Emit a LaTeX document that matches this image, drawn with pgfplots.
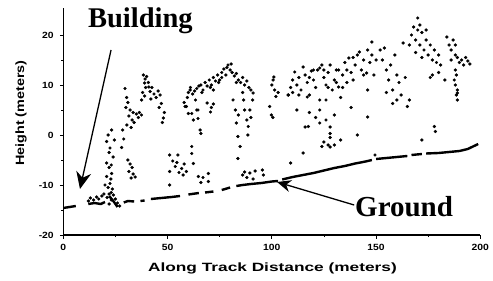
\documentclass[border=0pt]{standalone}
\usepackage{graphicx}
\usepackage{fontspec}
\setmainfont{Liberation Sans}
\newfontfamily\tnr{Liberation Serif}
\usepackage{pgfplots}
\pgfplotsset{compat=1.18}
\usetikzlibrary{arrows.meta}
\begin{document}
\begin{tikzpicture}
\begin{axis}[
  scale only axis, width=417pt, height=227pt,
  xmin=0, xmax=200, ymin=-20, ymax=25.4,
  axis x line*=bottom, axis y line*=left,
  axis line style={line width=1.3pt},
  xtick={0,50,100,150,200}, ytick={-20,-10,0,10,20},
  minor x tick num=1, minor y tick num=1,
  tick align=outside, major tick length=3.5pt, minor tick length=2pt,
  tick style={black, line width=0.8pt},
  /pgf/number format/assume math mode=true,
  tick label style={font=\fontsize{9}{10}\selectfont\bfseries},
  xticklabel style={yshift=-2pt, xscale=1.15},
  yticklabel style={xshift=-2pt, xscale=1.15},
  clip=false,
]
\coordinate (O) at (rel axis cs:0,0);
% ground
\addplot[black, line width=2.4pt, unbounded coords=jump] coordinates {
(0,-14.6)(3,-14.4)(6,-14.2) (7,nan)
(12,-13.8)(15,-13.6)(18,-13.8)(20,-13.4) (21,nan)
(22,-12.2)(24,-13.2)(26,-14.4) (27,nan)
(29,-13.5)(31,-13.2)(34,-13.3) (36,nan) (37,-13.2)(39,-13.1) (40,nan)
(42,-12.8)(47,-12.6)(52,-12.4)(56,-12.2) (58,nan)
(60,-11.9)(65,-11.6) (66,nan) (68,-11.5)(72,-11.3) (74,nan)
(76,-11)(80,-10.5) (81,nan)
(83,-10.2)(86,-10)(90,-9.8)(95,-9.6)(100,-9.3)(103,-9.2) (104,nan)
(105,-8.9)(110,-8.4)(115,-8)(120,-7.6)(125,-7.1)(130,-6.6)(135,-6.2)(140,-5.7)(145,-5.3)(148,-5) (149,nan)
(150,-4.8)(155,-4.6)(160,-4.4)(165,-4.2) (166,nan)
(167,-4)(172,-3.8) (173,nan)
(174,-3.7)(180,-3.6)(185,-3.4)(190,-3.2)(194,-2.8)(197,-2.2)(199,-1.8)
};
% building / vegetation returns
\addplot[only marks, mark=*, mark size=1.45pt, black] coordinates {
(12,-13.2)(13,-12.6)(14.5,-13)(16,-12.4)(17,-12.8)(18.5,-12.2)(19.5,-11.8)
(21,-12.5)(22,-11.8)(23,-11.5)(24,-12)(25,-12.8)(26,-13.6)(27,-14.2)(23,-13)(22,-13.8)
(23.2,1)(20.8,-1.3)(22.4,-2.6)(23.9,-4.4)(20.8,-5.6)(22,-6.5)(23.2,-7.7)(20.8,-8.3)(22.4,-9.7)(21.5,-10.5)(23.5,-10.8)(22,-3.5)(24.5,-1)(21.5,0)(23,-6)(20,-10)(22.8,-8.8)
(31,-5)(32,-5.8)(33,-6.5)(31.5,-7.3)(33.5,-7.8)(34.5,-8.4)(32.5,-8.6)
(29.6,9.3)(30.4,7.5)(31,6.5)(30,5.5)(32,5)(33.5,4.5)(35,4.2)(36.5,4.5)(37.5,4)(31.5,3.8)(33,3)(30.5,2)(32.5,1.5)(28.5,1)(34,2.5)(36,3.5)(29,-0.8)(28,-2.5)
(38.4,12)(39.2,11.2)(40,11.7)(40.8,10.5)(41.6,8.7)(39.5,9.5)(38,8.5)(37.6,7)(42.5,9.5)(43.5,8.2)(44.5,7.5)(45.5,8.8)(46.4,8)(47,6.3)(46,5.5)(48,3.4)(47.5,2.5)(48.5,4.5)(39,7.8)(42,7.2)(39,10.4)(41,9.6)
(51,-4)(55,-4)(56.8,-6.7)(53.7,-6.3)(51,-7.3)(59,-7.3)(61.6,-2.3)(61.6,-3.7)(62.4,-5.7)(64.8,-8.3)(69.6,-7.7)(69.6,-9.3)(51,-10)(52.5,-5.2)(54.5,-5.5)(57.5,-8)(55.5,-7.5)(58,-5.8)(66,-9.5)(67,-8.5)
(60.8,9)(59,5.7)(61.6,4.3)(62.4,3)(64.6,3.3)(64.6,5)(63.4,7)(58.4,5.7)(60,4.3)(65.6,1)(66,0.3)(64,5)(59.5,7.5)(58,6.5)
(60,8.5)(61,9.5)(62,8.2)(63,8.8)(64,9.3)(65,9.8)(66,10)(67,9)(68,10.5)(69,9.8)(70,11)(71,10)(72,11.5)(73,10.8)(74,12)(75,11)(76,12.5)(77,13.2)(78,12)(79,14)(80,13)(81,12.5)(82,11.8)(83,12.3)(84,11)(85,10.5)(86,11.5)(87,10)(88,10.8)(90,9)(91,8.4)(66.5,8.5)(70.5,9.5)(74.5,10.5)(78.5,13.5)(80.5,14.2)(83,10.5)(89,9.5)(72,9)(76,11.5)
(69,6.4)(71,5.5)(70.6,4.6)(72,6.2)
(81.4,7)(83,2.4)(83.7,-0.3)(84.8,-2.3)(83.7,-4.7)(86.5,7)(87,5)(88,3)(88.7,1.7)(90.8,7)(82.5,5)(84,4)(89.5,5)(86,8.5)(90,3.5)(88.5,0)
(86,-8)(87,-7.4)(88,-8.5)(89.5,-7.6)(91,-8.8)(95.5,-7)(96,-8)(92,-7.2)
(100.6,11)(101.4,9)(102,7.7)(99,5.7)(99.8,4)(107.8,8)(100,10)(101,11.6)(103,8.5)(100.5,3.5)
(108,8)(109,9.5)(110,11)(111,12.6)(112,10)(113,11.5)(114,9)(115,13.6)(116,12)(117,10.5)(118,8)(117,7.6)(119,12.8)(120,11)(121,9.5)(122,13)(123,13.4)(124,14)(123,7)(125,11.5)(126,10)(126,7)(127,12.5)(128,14)(129,9)(130,11)(131,13)(132,9.6)(132,13)(133,7.5)(134,12)(135,14.5)(136,10.5)(137,15.4)(138,12.5)(139,11)(140,14)(141,16)(142,16.6)(143,13)(144,15)(145.5,12.4)(146,17)(146,9)(147,14.5)(148,18.6)(148,16)(149,12)(150,15)(110,8.5)(113,8)(120,13)(127,9.5)(131,10.5)(136,13)(139,15.5)(144,12)(118,11.5)(125,13)(134,9.5)
(116,1.6)(123,5)(123,2.4)(128,1.6)(128,-0.5)(128,-2.4)(125,-1.4)(130,-2)(115,-3.6)(109,-5.6)(141,0)(146,3.6)(149.5,-4)(117.5,1.7)(128,0.3)(124,-2.3)(127,-2)(121,3.5)(118,4.5)(130,4)(126,3)(112,5)(133,-1)(138,5.5)
(152,17)(154,17.4)(153,15)(155,13)(156,11)(157,14)(158,9)(158,6.3)(160,12)(159,16)(161,10.5)(162,8)(163,18.4)(164,11.5)(165,5.7)(166,7)(155,8.5)(160,7)
(168,21.6)(170,23.4)(167,20)(169,19)(170,21)(171,18)(172,20.5)(173,17)(174,19)(175,16)(176,18)(177,15)(178,17)(179,14.5)(180,16)(181,14)(166,18)(172,15.5)(177,12)(169,16.5)(171,22)(174,21)
(184,19.6)(185,18)(186,17)(187,19)(188,16)(189,15.5)(190,14.5)(191,15)(192,14)(193,15.5)(194,14.8)(195,14.2)(186,15)(188,18)
(188,13)(188.5,12)(187.5,11)(188,10)(189,9)(188.5,8)(189,7)(189,8.4)
(172,-1)(178,1.7)(178.5,0.7)(183,11)(180,12.5)(176,11.5)
};
% annotations
\draw[line width=1.3pt, -{Stealth[length=17pt, width=15pt]}] (axis cs:22.9,17) -- (axis cs:8,-10.8);
\draw[line width=1.3pt, -{Stealth[length=14pt, width=12pt]}] (axis cs:139.5,-14) -- (axis cs:102.5,-9.4);
\node[anchor=base west, inner sep=0pt, font=\tnr\bfseries\fontsize{28.5}{30}\selectfont] at (axis cs:11.8,21.4) {Building};
\node[anchor=base west, inner sep=0pt, font=\tnr\bfseries\fontsize{29}{30}\selectfont] at (axis cs:139.9,-16.4) {Ground};
\node[font=\fontsize{12}{13}\selectfont\bfseries] at (axis cs:100.3,-26.6) {\scalebox{1.44}[1]{Along Track Distance (meters)}};
\node[rotate=90, font=\fontsize{12}{13}\selectfont\bfseries] at (axis cs:-20.3,4.4) {\scalebox{1.2}[1]{Height (meters)}};
\end{axis}
\pgfresetboundingbox
\path[use as bounding box] (O) ++(-63.3pt,-46pt) rectangle ++(493pt,281pt);
\end{tikzpicture}
\end{document}
